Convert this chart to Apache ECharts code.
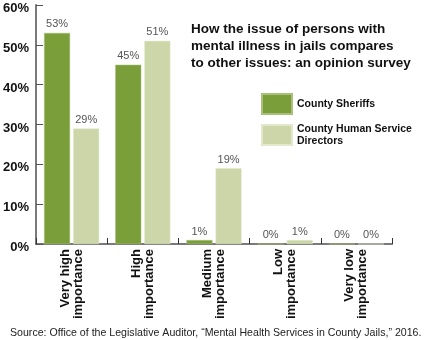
<!DOCTYPE html>
<html>
<head>
<meta charset="utf-8">
<script src="https://cdn.jsdelivr.net/npm/echarts@6/dist/echarts.min.js"></script>
<style>
  html, body { margin: 0; padding: 0; background: #fff; }
  #chart { width: 427px; height: 340px; }
</style>
</head>
<body>
<div id="chart"></div>
<script>
// Importance levels surveyed
const categories = [
  'Very high\nimportance',
  'High\nimportance',
  'Medium\nimportance',
  'Low\nimportance',
  'Very low\nimportance'
];
// Share of respondents (%) per group
const sheriffs = [53, 45, 1, 0, 0];
const humanServiceDirectors = [29, 51, 19, 1, 0];
// Y-axis tick values (%)
const yTicks = [0, 10, 20, 30, 40, 50, 60];

const titleText = 'How the issue of persons with\nmental illness in jails compares\nto other issues: an opinion survey';
const sourceText = 'Source: Office of the Legislative Auditor, \u201cMental Health Services in County Jails,\u201d 2016.';

const FONT = '"Liberation Sans", Arial, sans-serif';
const DARK = '#7a9f3a';
const LIGHT = '#ccd6a9';

const chart = echarts.init(document.getElementById('chart'), null, { renderer: 'canvas' });

const valueLabel = {
  show: true,
  position: 'top',
  distance: 3,
  formatter: p => p.value + '%',
  fontFamily: FONT,
  fontSize: 11,
  color: '#555'
};

chart.setOption({
  animation: false,
  backgroundColor: '#fff',
  title: {
    text: titleText,
    left: 186,
    top: 16,
    padding: 5,
    textStyle: {
      fontFamily: FONT,
      fontSize: 13.5,
      fontWeight: 'bold',
      color: '#111',
      lineHeight: 17
    }
  },
  legend: {
    orient: 'vertical',
    left: 261,
    top: 93,
    padding: 0,
    itemWidth: 30,
    itemHeight: 20,
    itemGap: 8,
    icon: 'rect',
    textStyle: {
      fontFamily: FONT,
      fontSize: 10.5,
      fontWeight: 'bold',
      color: '#111',
      lineHeight: 12
    },
    data: ['County Sheriffs', 'County Human Service\nDirectors']
  },
  graphic: [{
    type: 'text',
    left: 10,
    top: 328,
    style: {
      text: sourceText,
      fontFamily: FONT,
      fontSize: 10.6,
      fill: '#222'
    }
  }],
  grid: { left: 33, right: 35, top: 5, bottom: 96, containLabel: false },
  xAxis: {
    type: 'category',
    data: categories,
    axisLine: { lineStyle: { color: '#7a7a7a', width: 2 } },
    axisTick: { show: true, inside: true, length: 6, lineStyle: { color: '#333', width: 1 } },
    axisLabel: {
      rotate: 90,
      margin: 5,
      interval: 0,
      fontFamily: FONT,
      fontSize: 13,
      fontWeight: 'bold',
      color: '#111',
      lineHeight: 13
    }
  },
  yAxis: {
    type: 'value',
    min: yTicks[0],
    max: yTicks[yTicks.length - 1],
    interval: yTicks[1] - yTicks[0],
    axisLine: { show: true, lineStyle: { color: '#7a7a7a', width: 2 } },
    axisTick: { show: true, inside: true, length: 7, lineStyle: { color: '#555', width: 1 } },
    splitLine: { show: false },
    axisLabel: {
      formatter: v => v + '%',
      margin: 7,
      verticalAlign: 'top',
      lineHeight: 7,
      fontFamily: FONT,
      fontSize: 13,
      fontWeight: 'bold',
      color: '#111'
    }
  },
  series: [
    {
      name: 'County Sheriffs',
      type: 'bar',
      data: sheriffs,
      barWidth: 26,
      barGap: '12%',
      itemStyle: { color: DARK, borderColor: '#a9c07a', borderWidth: 0.5 },
      label: valueLabel
    },
    {
      name: 'County Human Service\nDirectors',
      type: 'bar',
      data: humanServiceDirectors,
      barWidth: 26,
      itemStyle: { color: LIGHT, borderColor: '#e2e8cc', borderWidth: 0.5 },
      label: valueLabel
    }
  ]
});
</script>
</body>
</html>
